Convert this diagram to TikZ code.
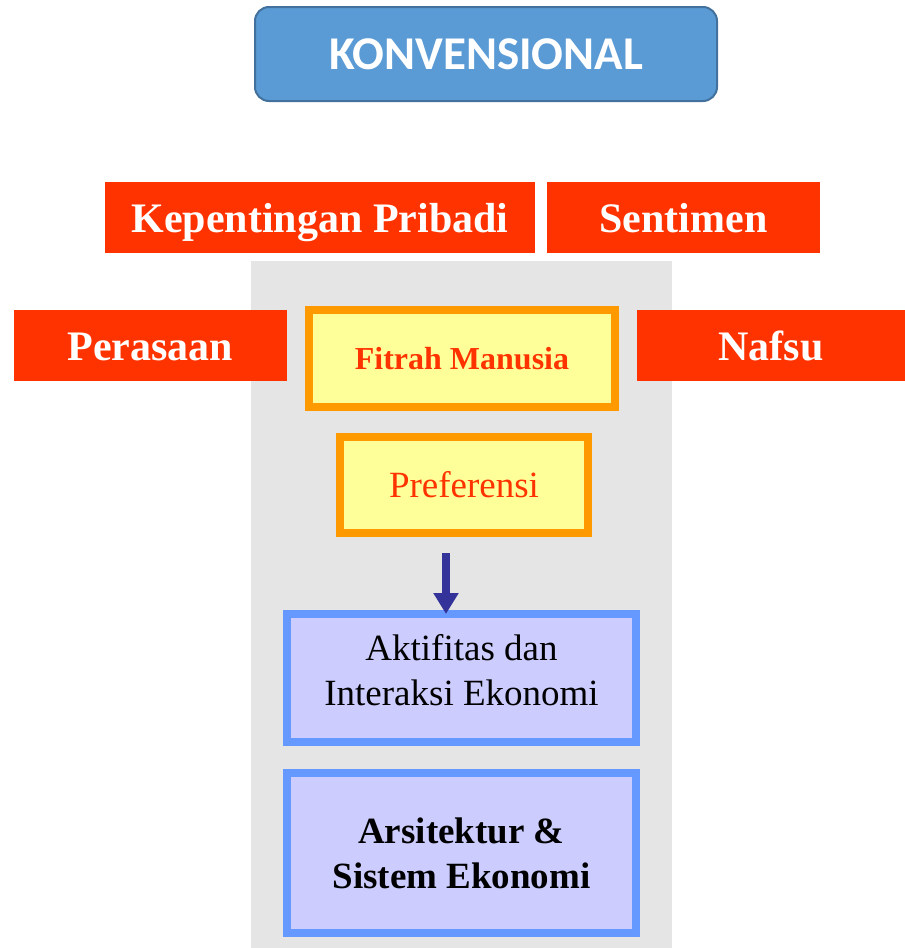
\documentclass[tikz,border=0pt]{standalone}
\usepackage{fontspec}
\setmainfont{Liberation Serif}
\newfontfamily\calibri{Carlito}
\usepackage{tikz}
\usetikzlibrary{
    arrows.meta,
    positioning
}

\definecolor{konvblue}{HTML}{5B9BD5}
\definecolor{konvedge}{HTML}{41719C}
\definecolor{hotred}{HTML}{FF3300}
\definecolor{bggray}{HTML}{E5E5E5}
\definecolor{paleyellow}{HTML}{FFFF99}
\definecolor{deeporange}{HTML}{FF9900}
\definecolor{lilac}{HTML}{CCCCFF}
\definecolor{skyedge}{HTML}{6699FF}
\definecolor{navyarrow}{HTML}{333399}

\begin{document}
\begin{tikzpicture}[
x=1pt, y=-1pt,
every node/.style={inner sep=0pt, outer sep=0pt},
redbox/.style={
fill=hotred,
text=white,
minimum height=71pt,
text height=29pt,
text depth=0pt,
font=\bfseries\fontsize{42}{50}\selectfont
},
yellowbox/.style={
draw=deeporange,
line width=8pt,
fill=paleyellow,
text=hotred,
align=center
},
bluebox/.style={
draw=skyedge,
line width=8pt,
fill=lilac,
minimum width=349pt,
align=center,
font=\fontsize{37}{45}\selectfont
}
]

\useasboundingbox (0,0) rectangle (905,948);

% grey panel behind the chain
\fill[bggray] (251,261) rectangle (672,948);

\node[draw=konvedge, line width=2pt, fill=konvblue, rounded corners=14pt,
minimum width=462pt, minimum height=94pt,
text=white, font=\calibri\bfseries\fontsize{47}{56}\selectfont]
(konv) at (486,54) {KONVENSIONAL};

\node[redbox, minimum width=430pt] (pribadi) at (320,217.5)
{Kepentingan Pribadi};

\node[redbox, minimum width=273pt] (sentimen) at (683.5,217.5)
{Sentimen};

\node[redbox, minimum width=273pt] (perasaan) at (150.5,345.5)
{Perasaan};

\node[redbox, minimum width=268pt] (nafsu) at (771,345.5)
{Nafsu};

\node[yellowbox, minimum width=306pt, minimum height=97pt,
font=\bfseries\fontsize{32}{38}\selectfont] (fitrah) at (462,358.5)
{Fitrah Manusia};

\node[yellowbox, minimum width=248pt, minimum height=96pt,
font=\fontsize{37}{45}\selectfont] (pref) at (464,485)
{Preferensi};

\node[bluebox, minimum height=128pt, text depth=16pt] (aktif) at (461.5,678)
{Aktifitas dan\\Interaksi Ekonomi};

\node[bluebox, minimum height=160pt, font=\bfseries\fontsize{37}{45}\selectfont]
(arsi) at (461.5,853)
{Arsitektur \&\\Sistem Ekonomi};

\coordinate (arrtop) at (446,553);

\draw[-{Triangle[width=24pt,length=21pt]}, line width=8pt, navyarrow]
(arrtop) -- (arrtop |- aktif.north);

\end{tikzpicture}
\end{document}
